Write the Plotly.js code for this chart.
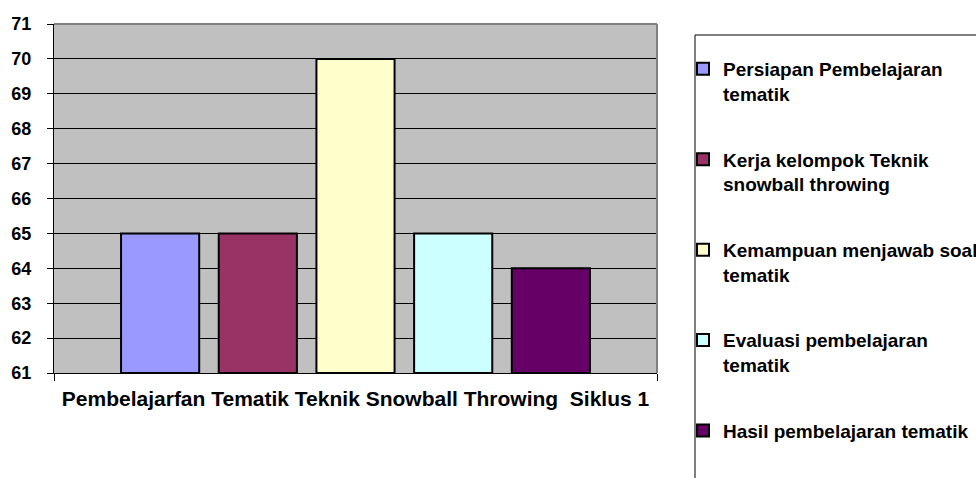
<!DOCTYPE html>
<html>
<head>
<meta charset="utf-8">
<script src="https://cdn.plot.ly/plotly-3.0.1.min.js"></script>
<style>html,body{margin:0;padding:0;background:#fff;}#chart{width:976px;height:478px;}</style>
</head>
<body>
<div id="chart"></div>
<script>
const category = ["Pembelajarfan Tematik Teknik Snowball Throwing \u00a0Siklus 1"];
const seriesNames = [
  "Persiapan Pembelajaran<br>tematik",
  "Kerja kelompok Teknik<br>snowball throwing",
  "Kemampuan menjawab soal<br>tematik",
  "Evaluasi pembelajaran<br>tematik",
  "Hasil pembelajaran tematik"
];
const seriesValues = [65, 65, 70, 65, 64];
const seriesColors = ["#9999FF", "#993366", "#FFFFCC", "#CCFFFF", "#660066"];
const yTicks = [61, 62, 63, 64, 65, 66, 67, 68, 69, 70, 71];
const yMin = 61, yMax = 71;

const FONT = "Arial, 'Liberation Sans', sans-serif";

const traces = seriesNames.map((name, i) => ({
  type: "bar",
  name: "<b>" + name.replace("<br>", "</b><br><b>") + "</b>",
  x: category.map(c => "<b>" + c + "</b>"),
  y: [seriesValues[i] - yMin],
  base: yMin,
  marker: {color: seriesColors[i], line: {color: "#000000", width: 2}},
  legendgroup: "g" + i,
  hoverinfo: "none"
}));

const W = 976, H = 478;
const L = 54, R = W - 657, T = 24, B = H - 373;
const pw = W - L - R, ph = H - T - B;
const px = v => (v - L) / pw;
const py = v => (H - B - v) / ph;

const layout = {
  width: W, height: H,
  margin: {l: L, r: R, t: T, b: B, pad: 0, autoexpand: false},
  paper_bgcolor: "#ffffff",
  plot_bgcolor: "#C0C0C0",
  barmode: "group",
  bargap: 0.19,
  bargroupgap: 0.2,
  font: {family: FONT, color: "#000000"},
  showlegend: true,
  legend: {
    xref: "container", yref: "container",
    x: 683 / W, xanchor: "left",
    y: 1 - 50 / H, yanchor: "top",
    bgcolor: "rgba(0,0,0,0)",
    borderwidth: 0,
    font: {family: FONT, size: 19, color: "#000000"},
    traceorder: "grouped",
    tracegroupgap: 38,
    valign: "top",
    maxheight: 600,
    itemclick: false, itemdoubleclick: false
  },
  xaxis: {
    type: "category",
    showgrid: false,
    showline: true, linecolor: "#000000", linewidth: 1,
    ticks: "outside", ticklen: 7, tickcolor: "#000000", tickson: "boundaries",
    tickfont: {family: FONT, size: 21, color: "#000000"},
    tickangle: 0,
    automargin: false,
    ticklabelstandoff: 7,
    fixedrange: true
  },
  yaxis: {
    range: [yMin, yMax],
    tickvals: yTicks,
    ticktext: yTicks.map(v => "<b>" + v + "</b>"),
    showgrid: true, gridcolor: "#000000", gridwidth: 1,
    showline: true, linecolor: "#000000", linewidth: 1,
    ticks: "outside", ticklen: 6, tickcolor: "#000000",
    tickfont: {family: FONT, size: 18, color: "#000000"},
    ticklabelstandoff: 12,
    automargin: false,
    zeroline: false,
    fixedrange: true
  },
  shapes: [
    {type: "line", xref: "paper", yref: "paper", x0: 0, x1: 1, y0: 1, y1: 1, line: {color: "#808080", width: 2}},
    {type: "line", xref: "paper", yref: "paper", x0: 1, x1: 1, y0: 0, y1: 1, line: {color: "#808080", width: 2}},
    {type: "rect", xref: "paper", yref: "paper", x0: px(695), x1: px(990), y0: py(490), y1: py(35), line: {color: "#000000", width: 1}, fillcolor: "rgba(0,0,0,0)"}
  ]
};

Plotly.newPlot("chart", traces, layout, {displayModeBar: false, staticPlot: true});
</script>
</body>
</html>
